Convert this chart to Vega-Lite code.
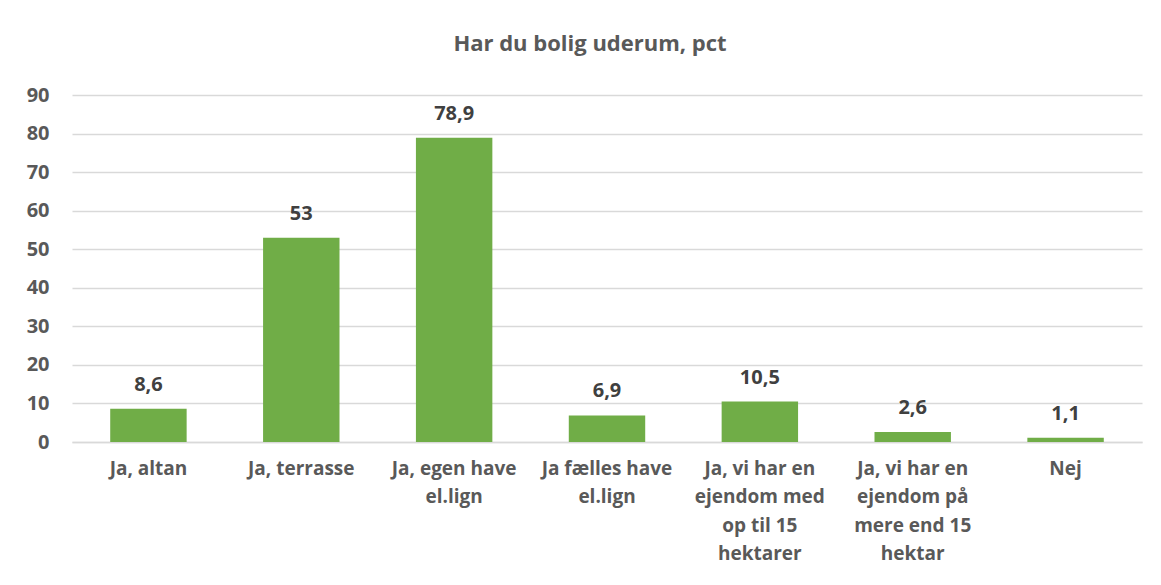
{
  "$schema": "https://vega.github.io/schema/vega-lite/v6.json",
  "width": 1070,
  "height": 347,
  "autosize": {"type": "none"},
  "padding": {"left": 72, "top": 95, "right": 19, "bottom": 143},
  "background": "white",
  "config": {
    "font": "Open Sans",
    "view": {"stroke": null},
    "locale": {"number": {"decimal": ",", "thousands": ".", "grouping": [3], "currency": ["", " kr"]}}
  },
  "title": {
    "text": "Har du bolig uderum, pct",
    "font": "Open Sans",
    "fontSize": 22,
    "fontWeight": "bold",
    "color": "#595959",
    "anchor": "middle",
    "offset": 29,
    "dx": -17
  },
  "data": {
    "values": [
      {"kategori": "Ja, altan", "pct": 8.6},
      {"kategori": "Ja, terrasse", "pct": 53},
      {"kategori": "Ja, egen have|el.lign", "pct": 78.9},
      {"kategori": "Ja fælles have|el.lign", "pct": 6.9},
      {"kategori": "Ja,  vi har en|ejendom med|op til 15|hektarer", "pct": 10.5},
      {"kategori": "Ja, vi har en|ejendom på|mere end 15|hektar", "pct": 2.6},
      {"kategori": "Nej", "pct": 1.1}
    ]
  },
  "encoding": {
    "x": {
      "field": "kategori",
      "type": "nominal",
      "sort": null,
      "scale": {"paddingInner": 0.5, "paddingOuter": 0.25},
      "axis": {
        "title": null,
        "labelAngle": 0,
        "labelExpr": "split(datum.label, '|')",
        "labelFont": "Open Sans",
        "labelFontSize": 19,
        "labelFontWeight": "bold",
        "labelColor": "#595959",
        "labelLineHeight": 28.5,
        "labelPadding": 17,
        "labelBaseline": "top",
        "ticks": false,
        "domain": true,
        "domainColor": "#d9d9d9",
        "domainWidth": 1.5,
        "labelLimit": 200
      }
    },
    "y": {
      "field": "pct",
      "type": "quantitative",
      "scale": {"domain": [0, 90], "nice": false},
      "axis": {
        "title": null,
        "values": [0, 10, 20, 30, 40, 50, 60, 70, 80, 90],
        "labelFont": "Open Sans",
        "labelFontSize": 20,
        "labelFontWeight": "bold",
        "labelColor": "#595959",
        "labelPadding": 23,
        "ticks": false,
        "domain": false,
        "grid": true,
        "gridColor": "#d9d9d9",
        "gridWidth": 1.5
      }
    }
  },
  "layer": [
    {"mark": {"type": "bar", "color": "#70AD47"}},
    {
      "mark": {"type": "text", "baseline": "alphabetic", "dy": -18, "font": "Open Sans", "fontSize": 20, "fontWeight": "bold", "color": "#404040"},
      "encoding": {"text": {"field": "pct", "type": "quantitative", "format": "~g"}}
    }
  ]
}
